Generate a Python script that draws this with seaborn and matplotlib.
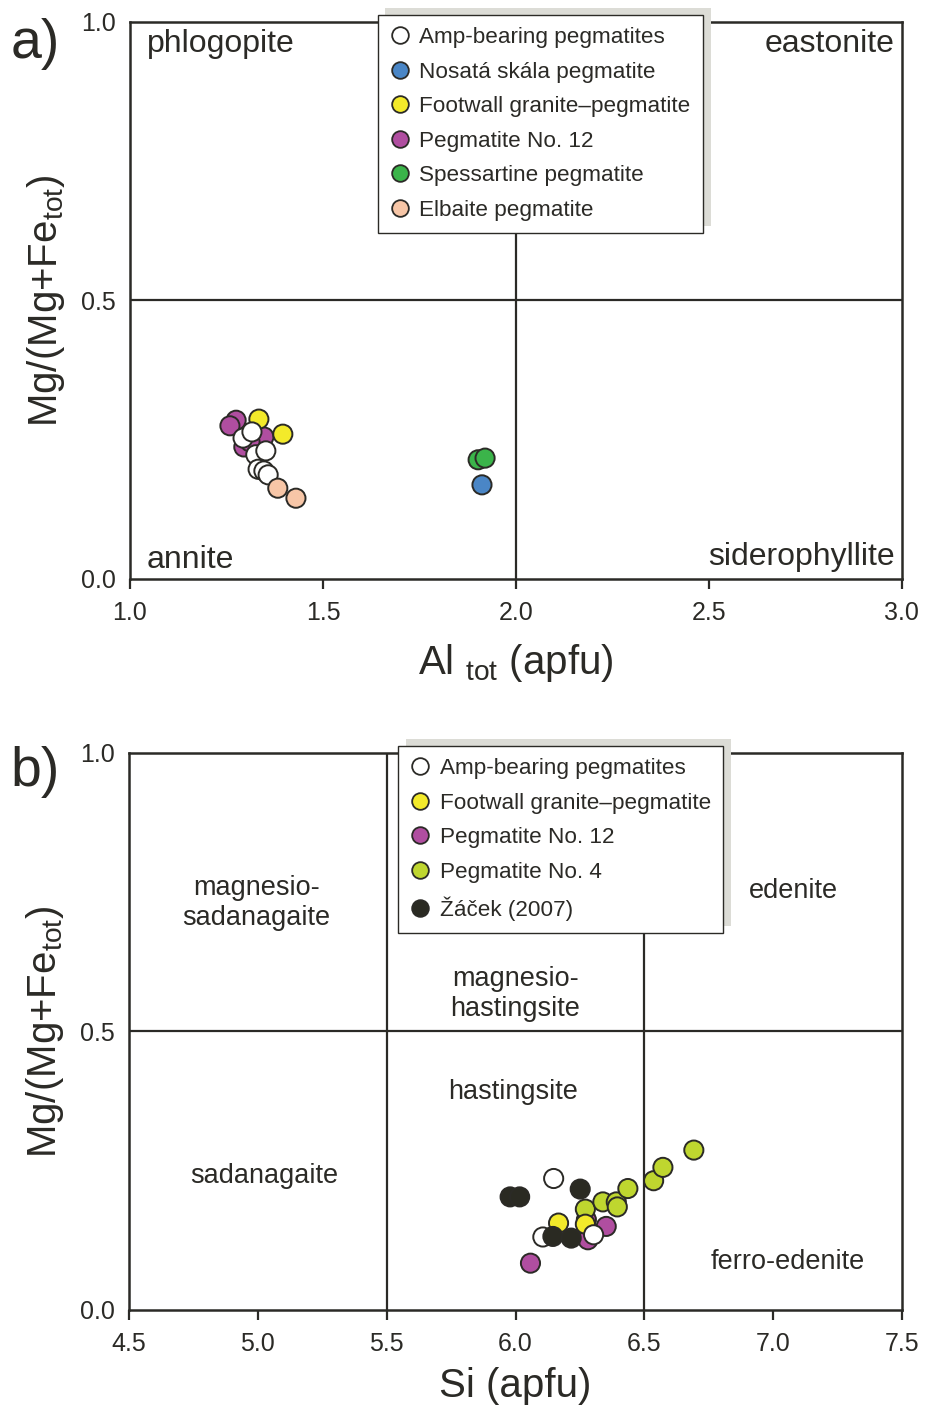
import numpy as np
import pandas as pd
import seaborn as sns
import matplotlib.pyplot as plt
from matplotlib.lines import Line2D
from matplotlib.ticker import FormatStrFormatter

# ---- data: panel a (mica, Al_tot vs Mg/(Mg+Fe)) ----
amp_a_x = [1.293, 1.316, 1.326, 1.352, 1.332, 1.347, 1.358]
amp_a_y = [0.253, 0.264, 0.223, 0.230, 0.197, 0.194, 0.187]
nosata_x = [1.912]
nosata_y = [0.169]
foot_a_x = [1.334, 1.396]
foot_a_y = [0.287, 0.260]
peg12_a_x = [1.275, 1.259, 1.347, 1.295, 1.311]
peg12_a_y = [0.285, 0.275, 0.255, 0.237, 0.246]
spess_x = [1.902, 1.920]
spess_y = [0.214, 0.217]
elbaite_x = [1.383, 1.430]
elbaite_y = [0.163, 0.145]

# ---- data: panel b (amphibole, Si vs Mg/(Mg+Fe)) ----
amp_b_x = [6.148, 6.106, 6.303]
amp_b_y = [0.236, 0.131, 0.135]
foot_b_x = [6.167, 6.271]
foot_b_y = [0.156, 0.154]
peg12_b_x = [6.058, 6.281, 6.352, 6.275]
peg12_b_y = [0.084, 0.126, 0.150, 0.162]
peg4_x = [6.271, 6.339, 6.391, 6.395, 6.436, 6.536, 6.572, 6.692]
peg4_y = [0.181, 0.194, 0.194, 0.185, 0.218, 0.232, 0.256, 0.287]
zacek_x = [5.979, 6.016, 6.251, 6.145, 6.216]
zacek_y = [0.203, 0.203, 0.217, 0.132, 0.129]

groups_a = ['Amp-bearing pegmatites', 'Nosatá skála pegmatite', 'Footwall granite–pegmatite',
            'Pegmatite No. 12', 'Spessartine pegmatite', 'Elbaite pegmatite']
groups_b = ['Amp-bearing pegmatites', 'Footwall granite–pegmatite', 'Pegmatite No. 12',
            'Pegmatite No. 4', 'Žáček (2007)']

colors = {'Amp-bearing pegmatites': '#ffffff',
          'Nosatá skála pegmatite': '#4a86c6',
          'Footwall granite–pegmatite': '#f3ea2a',
          'Pegmatite No. 12': '#b04ea0',
          'Spessartine pegmatite': '#3bb44a',
          'Elbaite pegmatite': '#f7c6a7',
          'Pegmatite No. 4': '#bfd62f',
          'Žáček (2007)': '#2a2a22'}

dark = '#2b2a26'


def frame(xs, ys, name):
    return pd.DataFrame({'x': xs, 'y': ys, 'group': name})


# row order sets drawing order (later rows on top)
df_a = pd.concat([frame(peg12_a_x, peg12_a_y, 'Pegmatite No. 12'),
                  frame(foot_a_x, foot_a_y, 'Footwall granite–pegmatite'),
                  frame(amp_a_x, amp_a_y, 'Amp-bearing pegmatites'),
                  frame(elbaite_x, elbaite_y, 'Elbaite pegmatite'),
                  frame(nosata_x, nosata_y, 'Nosatá skála pegmatite'),
                  frame(spess_x, spess_y, 'Spessartine pegmatite')], ignore_index=True)
df_b = pd.concat([frame(peg12_b_x, peg12_b_y, 'Pegmatite No. 12'),
                  frame(peg4_x, peg4_y, 'Pegmatite No. 4'),
                  frame(foot_b_x, foot_b_y, 'Footwall granite–pegmatite'),
                  frame(amp_b_x, amp_b_y, 'Amp-bearing pegmatites'),
                  frame(zacek_x, zacek_y, 'Žáček (2007)')], ignore_index=True)

sns.set_style('white')
plt.rcParams['font.family'] = ['Liberation Sans', 'DejaVu Sans']
plt.rcParams['mathtext.fontset'] = 'custom'
plt.rcParams['mathtext.rm'] = 'Liberation Sans'
plt.rcParams['text.color'] = dark
plt.rcParams['axes.labelcolor'] = dark
plt.rcParams['xtick.color'] = dark
plt.rcParams['ytick.color'] = dark

fig = plt.figure(figsize=(9.33, 14.06), dpi=100)
ax_a = fig.add_axes([0.1393, 0.5882, 0.8274, 0.3962])
ax_b = fig.add_axes([0.1383, 0.0683, 0.8285, 0.3962])


def style_axes(ax, xlim, xticks):
    ax.set_xlim(*xlim)
    ax.set_ylim(0, 1)
    ax.set_xticks(xticks)
    ax.set_yticks([0.0, 0.5, 1.0])
    ax.xaxis.set_major_formatter(FormatStrFormatter('%.1f'))
    ax.yaxis.set_major_formatter(FormatStrFormatter('%.1f'))
    ax.tick_params(axis='x', direction='out', length=7, width=1.6, labelsize=18, pad=9,
                   bottom=True)
    ax.tick_params(axis='y', length=0, labelsize=18, pad=10, left=True)
    for sp in ax.spines.values():
        sp.set_color(dark)
        sp.set_linewidth(1.8)
    ax.set_ylabel(r'Mg/(Mg+Fe$_{\mathregular{tot}}$)', fontsize=29)
    ax.yaxis.set_label_coords(-0.082, 0.5)


def make_legend(ax, names, anchor):
    handles = [Line2D([], [], marker='o', ls='', ms=12, mfc=colors[n], mec=dark, mew=1.3)
               for n in names]
    leg = ax.legend(handles, names, loc='upper left', bbox_to_anchor=anchor, borderaxespad=0,
                    fontsize=16.2, frameon=True, fancybox=False, handlelength=0.85,
                    handletextpad=0.45, labelspacing=0.6, borderpad=0.55,
                    shadow={'ox': 5.5, 'oy': 5, 'facecolor': '#dcdcd6', 'edgecolor': 'none',
                            'alpha': 1})
    leg.get_frame().set_edgecolor(dark)
    leg.get_frame().set_linewidth(1.0)
    leg.set_zorder(5)
    for t in leg.get_texts():
        t.set_color(dark)


# ---- panel a ----
ax_a.axvline(2.0, color=dark, lw=1.6, zorder=1)
ax_a.axhline(0.5, color=dark, lw=1.6, zorder=1)
sns.scatterplot(data=df_a, x='x', y='y', hue='group', hue_order=groups_a, palette=colors,
                s=190, edgecolor=dark, linewidth=1.4, legend=False, ax=ax_a, zorder=3)
style_axes(ax_a, (1.0, 3.0), [1.0, 1.5, 2.0, 2.5, 3.0])
ax_a.set_xlabel(r'Al $_{\mathregular{tot}}$ (apfu)', fontsize=29, labelpad=12)
make_legend(ax_a, groups_a, (0.321, 1.0126))
ax_a.text(1.044, 0.960, 'phlogopite', fontsize=23, ha='left', va='center')
ax_a.text(2.982, 0.960, 'eastonite', fontsize=23, ha='right', va='center')
ax_a.text(1.044, 0.034, 'annite', fontsize=23, ha='left', va='center')
ax_a.text(2.982, 0.040, 'siderophyllite', fontsize=23, ha='right', va='center')

# ---- panel b ----
ax_b.axvline(5.5, color=dark, lw=1.6, zorder=1)
ax_b.axvline(6.5, color=dark, lw=1.6, zorder=1)
ax_b.axhline(0.5, color=dark, lw=1.6, zorder=1)
sns.scatterplot(data=df_b, x='x', y='y', hue='group', hue_order=groups_b, palette=colors,
                s=190, edgecolor=dark, linewidth=1.4, legend=False, ax=ax_b, zorder=3)
style_axes(ax_b, (4.5, 7.5), [4.5, 5.0, 5.5, 6.0, 6.5, 7.0, 7.5])
ax_b.set_xlabel('Si (apfu)', fontsize=29, labelpad=8)
make_legend(ax_b, groups_b, (0.348, 1.0126))
lbl = dict(fontsize=19.5, linespacing=1.2)
ax_b.text(4.994, 0.730, 'magnesio-\nsadanagaite', ha='center', va='center', **lbl)
ax_b.text(6.0, 0.567, 'magnesio-\nhastingsite', ha='center', va='center', **lbl)
ax_b.text(6.905, 0.753, 'edenite', ha='left', va='center', **lbl)
ax_b.text(5.99, 0.392, 'hastingsite', ha='center', va='center', **lbl)
ax_b.text(5.025, 0.240, 'sadanagaite', ha='center', va='center', **lbl)
ax_b.text(6.758, 0.086, 'ferro-edenite', ha='left', va='center', **lbl)

# panel letters
fig.text(0.011, 0.969, 'a)', fontsize=40, ha='left', va='center')
fig.text(0.011, 0.451, 'b)', fontsize=40, ha='left', va='center')

fig.savefig('out.png', dpi=100)
